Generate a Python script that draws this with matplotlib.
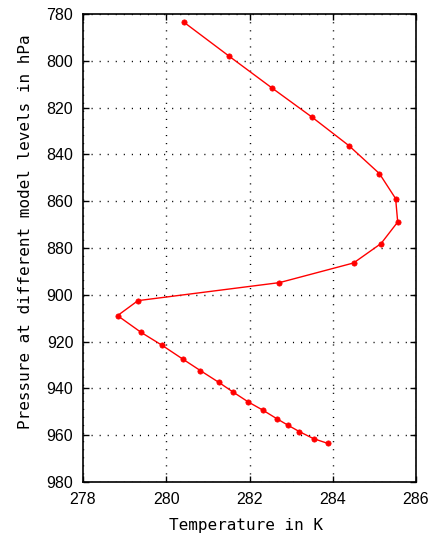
import matplotlib
matplotlib.use("Agg")
import matplotlib.pyplot as plt

# temperature profile (K) vs pressure (hPa)
temperature = [280.43, 281.50, 282.53, 283.51, 284.39, 285.12, 285.51, 285.56,
               285.16, 284.50, 282.72, 279.32, 278.83, 279.39, 279.90, 280.39,
               280.82, 281.26, 281.60, 281.97, 282.33, 282.65, 282.93, 283.20,
               283.54, 283.88]
pressure = [783.6, 797.9, 811.5, 824.2, 836.3, 848.2, 858.9, 868.9,
            878.1, 886.4, 894.8, 902.5, 908.9, 916.0, 921.6, 927.4,
            932.4, 937.4, 941.5, 945.8, 949.4, 952.9, 955.8, 958.5,
            961.5, 963.5]

xticks = [278, 280, 282, 284, 286]
yticks = [780, 800, 820, 840, 860, 880, 900, 920, 940, 960, 980]

plt.rcParams['font.family'] = ['Liberation Sans', 'DejaVu Sans']
fig = plt.figure(figsize=(4.43, 5.44), dpi=100)
ax = fig.add_axes([0.1874, 0.114, 0.7517, 0.8603])

ax.plot(temperature, pressure, color='#ff0000', linewidth=1.0,
        marker='o', markersize=3.8, markeredgewidth=0.5)

ax.set_xlim(278, 286)
ax.set_ylim(980, 780)
ax.set_xticks(xticks)
ax.set_yticks(yticks)
ax.tick_params(direction='in', top=True, right=True, length=4,
               labelsize=11.5, width=1, pad=7)
for s in ax.spines.values():
    s.set_linewidth(1.2)

ax.grid(True, linestyle=(0, (0.8, 5.0)), color='black', linewidth=1.0)
ax.set_xlabel('Temperature in K', fontsize=11.5, family='DejaVu Sans Mono')
ax.set_ylabel('Pressure at different model levels in hPa', fontsize=11.5,
              family='DejaVu Sans Mono')
ax.xaxis.set_label_coords(0.49, -0.077)
ax.yaxis.set_label_coords(-0.15, 0.535)

fig.savefig('out.png', dpi=100)
